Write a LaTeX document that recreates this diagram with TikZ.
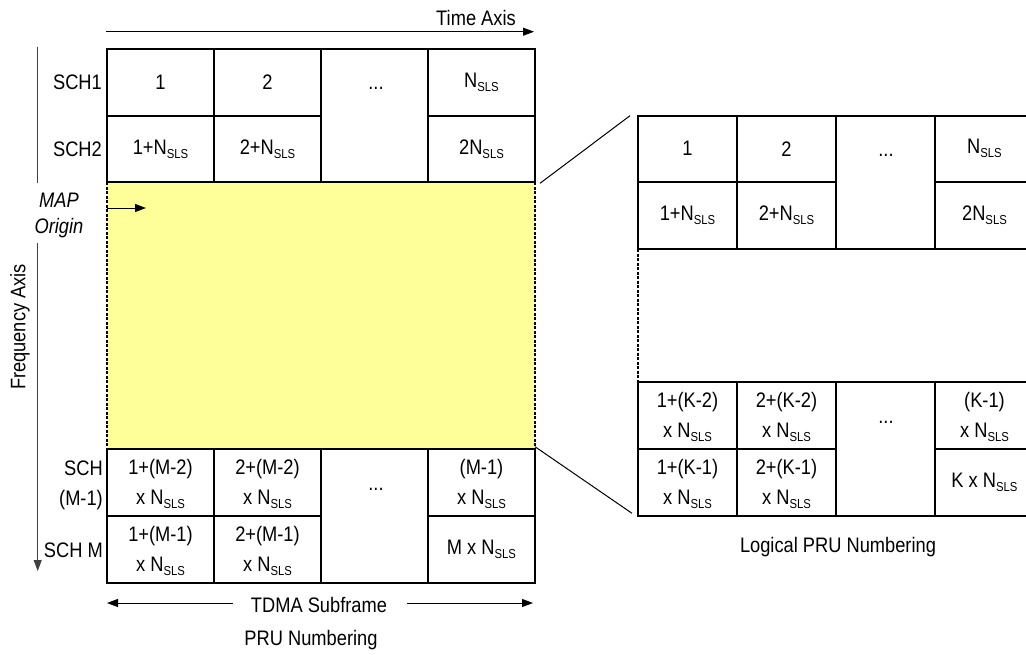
\documentclass[tikz,border=0pt]{standalone}
\usepackage{fontspec}
\setmainfont[FakeStretch=0.87]{Liberation Sans}
\usetikzlibrary{arrows.meta}
\newcommand\Ns{N\raisebox{-4pt}{\fontsize{13}{13}\selectfont SLS}}
\definecolor{mapyellow}{HTML}{FFFF99}
\begin{document}
\begin{tikzpicture}[x=1pt,y=-1pt,
  gridln/.style={line width=1.8pt},
  thinln/.style={line width=1pt},
  lbl/.style={font=\fontsize{21}{30}\selectfont, inner sep=0pt},
  cell/.style={lbl, align=center},
  tipped/.style={-{Triangle[length=11pt,width=8pt]}}]
\useasboundingbox (0,0) rectangle (1026,654);
\clip (0,0) rectangle (1026,654);

% MAP region
\fill[mapyellow] (107,182.3) rectangle (535,449);
\draw[line width=1.2pt, dash pattern=on 3pt off 1.5pt] (107,182.3) -- (107,449);
\draw[line width=1.2pt, dash pattern=on 3pt off 1.5pt] (535,182.3) -- (535,449);

% left grid, top part
\draw[gridln] (107,49) rectangle (535,182.3);
\draw[gridln] (214,49) -- (214,182.3) (321,49) -- (321,182.3) (428,49) -- (428,182.3);
\draw[gridln] (107,115.7) -- (321,115.7) (428,115.7) -- (535,115.7);
% left grid, bottom part
\draw[gridln] (107,449) rectangle (535,583);
\draw[gridln] (214,449) -- (214,583) (321,449) -- (321,583) (428,449) -- (428,583);
\draw[gridln] (107,515.7) -- (321,515.7) (428,515.7) -- (535,515.7);

% right grid
\draw[gridln] (638,115.7) rectangle (1040,249);
\draw[gridln] (737,115.7) -- (737,249) (836,115.7) -- (836,249) (935,115.7) -- (935,249);
\draw[gridln] (638,181.7) -- (836,181.7) (935,181.7) -- (1040,181.7);
\draw[line width=1.2pt, dash pattern=on 3pt off 1.5pt] (638,249) -- (638,382.3);
\draw[gridln] (638,382.3) rectangle (1040,515.7);
\draw[gridln] (737,382.3) -- (737,515.7) (836,382.3) -- (836,515.7) (935,382.3) -- (935,515.7);
\draw[gridln] (638,449) -- (836,449) (935,449) -- (1040,449);

% left grid texts
\node[cell] (a11) at (160.5,82.3) {1};
\node[cell] (a12) at (267.5,82.3) {2};
\node[cell] (a13) at (376,88) {...};
\node[cell] (a14) at (481.5,82.3) {\Ns};
\node[cell] (a21) at (160.5,149) {1+\Ns};
\node[cell] (a22) at (267.5,149) {2+\Ns};
\node[cell] (a24) at (481.5,149) {2\Ns};
\node[cell] (a31) at (160.5,484) {1+(M-2)\\x \Ns};
\node[cell] (a32) at (267.5,484) {2+(M-2)\\x \Ns};
\node[cell] (a33) at (376,489) {...};
\node[cell] (a34) at (481.5,484) {(M-1)\\x \Ns};
\node[cell] (a41) at (160.5,551) {1+(M-1)\\x \Ns};
\node[cell] (a42) at (267.5,551) {2+(M-1)\\x \Ns};
\node[cell] (a44) at (481.5,549.3) {M x \Ns};

% right grid texts
\node[cell] (b11) at (687.5,148.7) {1};
\node[cell] (b12) at (786.5,148.7) {2};
\node[cell] (b13) at (886,155) {...};
\node[cell] (b14) at (984.5,148.7) {\Ns};
\node[cell] (b21) at (687.5,215.3) {1+\Ns};
\node[cell] (b22) at (786.5,215.3) {2+\Ns};
\node[cell] (b24) at (984.5,215.3) {2\Ns};
\node[cell] (b31) at (687.5,417) {1+(K-2)\\x \Ns};
\node[cell] (b32) at (786.5,417) {2+(K-2)\\x \Ns};
\node[cell] (b33) at (886,422) {...};
\node[cell] (b34) at (984.5,417) {(K-1)\\x \Ns};
\node[cell] (b41) at (687.5,484) {1+(K-1)\\x \Ns};
\node[cell] (b42) at (786.5,484) {2+(K-1)\\x \Ns};
\node[cell] (b44) at (984.5,482.3) {K x \Ns};

% row labels
\node[lbl, anchor=east] (sch1) at (102,82.3) {SCH1};
\node[lbl, anchor=east] (sch2) at (102,149) {SCH2};
\node[lbl, anchor=east, align=right] (schm1) at (103,485) {SCH\\(M-1)};
\node[lbl, anchor=east] (schm) at (103,550) {SCH M};

% axes
\coordinate (tA) at (106,31.7);
\coordinate (tB) at (534,31.7);
\draw[thinln, tipped] (tA) -- (tB);
\node[lbl] (timeaxis) at (476,18) {Time Axis};

\coordinate (fA) at (37.7,46.7);
\coordinate (fB) at (37.7,183);
\coordinate (fC) at (37.7,243);
\coordinate (fD) at (37.7,571);
\draw[thinln, black!75] (fA) -- (fB);
\draw[thinln, black!75, tipped] (fC) -- (fD);
\node[lbl, rotate=90] (freqaxis) at (20,327) {Frequency Axis};

\node[lbl, align=center, font=\fontsize{21}{26}\selectfont\itshape] (maporigin) at (59,215) {MAP\\Origin};
\coordinate (mA) at (107,208);
\coordinate (mB) at (146,208);
\draw[thinln, tipped] (mA) -- (mB);

% TDMA subframe
\node[lbl] (tdma) at (319,605) {TDMA Subframe};
\coordinate (dL) at (107,603);
\coordinate (dR) at (533,603);
\draw[thinln, tipped] (tdma.west) ++(-18,-2) -- (dL);
\draw[thinln, tipped] (tdma.east) ++(20,-2) -- (dR);
\node[lbl] (prunum) at (311,640) {PRU Numbering};
\node[lbl] (logpru) at (838,547) {Logical PRU Numbering};

% zoom lines
\coordinate (zA) at (540,183.3);
\coordinate (zB) at (630,115.7);
\coordinate (zC) at (535,446.7);
\coordinate (zD) at (632,513.3);
\draw[thinln] (zA) -- (zB);
\draw[thinln] (zC) -- (zD);
\end{tikzpicture}
\end{document}
